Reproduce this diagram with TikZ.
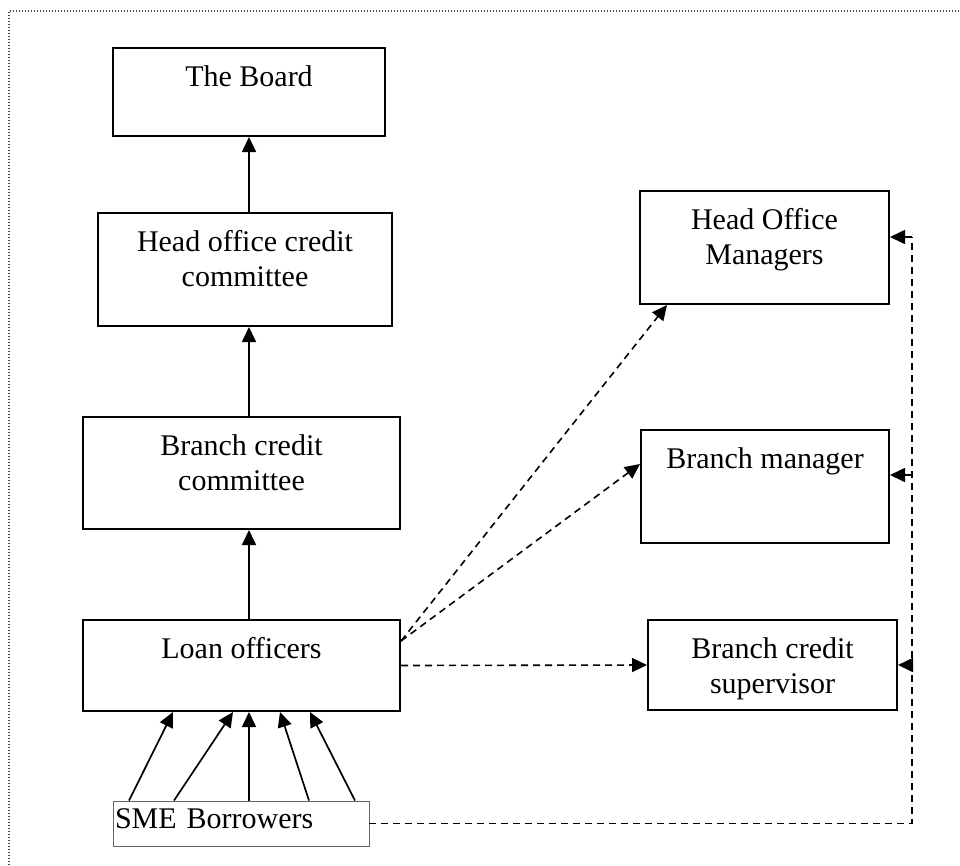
\documentclass[tikz,border=0pt]{standalone}
\usepackage{fontspec}
\setmainfont{Liberation Serif}
\usetikzlibrary{arrows.meta}
\definecolor{FrameGray}{HTML}{444444}
\definecolor{ThinGray}{HTML}{666666}

\begin{document}
\begin{tikzpicture}[x=1pt, y=-1pt,
    box/.style={draw, line width=2pt, inner sep=0pt},
    boxtext/.style={anchor=north, inner sep=0pt, align=center, yshift=-18pt,
      font=\fontsize{30}{35}\selectfont},
    arrowline/.style={line width=1.7pt, -{Triangle[length=15pt, width=14pt]}},
    dashline/.style={line width=1.6pt, dash pattern=on 7pt off 5pt},
    dasharrow/.style={dashline, -{Triangle[length=15pt, width=14pt]}}]
  \useasboundingbox (0,0) rectangle (960,865);
  % Frame
  \draw[FrameGray, line width=1.2pt, dash pattern=on 1.2pt off 1.8pt]
    (9,865) -- (9,11) -- (960,11);
  % Committees
  \node[box, minimum width=272pt, minimum height=88pt] (board) at (249,92) {};
  \node[boxtext] (board text) at (board.north) {The Board};
  \node[box, minimum width=294pt, minimum height=113pt] (hocc) at (245,269.5) {};
  \node[boxtext] (hocc text) at (hocc.north) {Head office credit\\committee};
  \node[box, minimum width=317pt, minimum height=112pt] (bcc) at (241.5,473) {};
  \node[boxtext] (bcc text) at (bcc.north) {Branch credit\\committee};
  \node[box, minimum width=317pt, minimum height=91pt] (lo) at (241.5,665.5) {};
  \node[boxtext] (lo text) at (lo.north) {Loan officers};
  % Borrowers
  \node[draw=ThinGray, line width=0.9pt, minimum width=256pt, minimum height=45pt,
    text width=252pt, align=left, inner xsep=1pt, inner ysep=0pt, text depth=9pt,
    font=\fontsize{30}{35}\selectfont] (sme) at (241,823.5) {SME Borrowers};
  % Managers
  \node[box, minimum width=249pt, minimum height=113pt] (hom) at (764.5,247.5) {};
  \node[boxtext] (hom text) at (hom.north) {Head Office\\Managers};
  \node[box, minimum width=248pt, minimum height=113pt] (bm) at (765,486.5) {};
  \node[boxtext] (bm text) at (bm.north) {Branch manager};
  \node[box, minimum width=249pt, minimum height=90pt] (bcs) at (772.5,665) {};
  \node[boxtext] (bcs text) at (bcs.north) {Branch credit\\supervisor};
  % Reporting line
  \draw[arrowline] (hocc.north -| board.south) -- (board.south);
  \draw[arrowline] (bcc.north -| board.south) -- (hocc.south -| board.south);
  \draw[arrowline] (lo.north -| board.south) -- (bcc.south -| board.south);
  \foreach \s/\t in {-112/-68.5, -67/-8.5, 8/7.5, 68/38.5, 114/68.5}
    \draw[arrowline] ([xshift=\s pt]sme.north) -- ([xshift=\t pt]lo.south);
  % Monitoring
  \draw[dasharrow] ([yshift=-22pt]lo.north east) -- ([xshift=28pt]hom.south west);
  \draw[dasharrow] ([yshift=-22pt]lo.north east) -- ([yshift=-35pt]bm.north west);
  \draw[dasharrow] (lo.east) -- (bcs.west);
  \coordinate (rail top) at (912,237);
  \coordinate (rail mid) at (912,475);
  \coordinate (rail low) at (912,665);
  \draw[dashline] (sme.east) -| (rail top);
  \draw[arrowline] (rail top) -- (rail top -| hom.east);
  \draw[arrowline] (rail mid) -- (rail mid -| bm.east);
  \draw[arrowline] (rail low) -- (rail low -| bcs.east);
\end{tikzpicture}
\end{document}
